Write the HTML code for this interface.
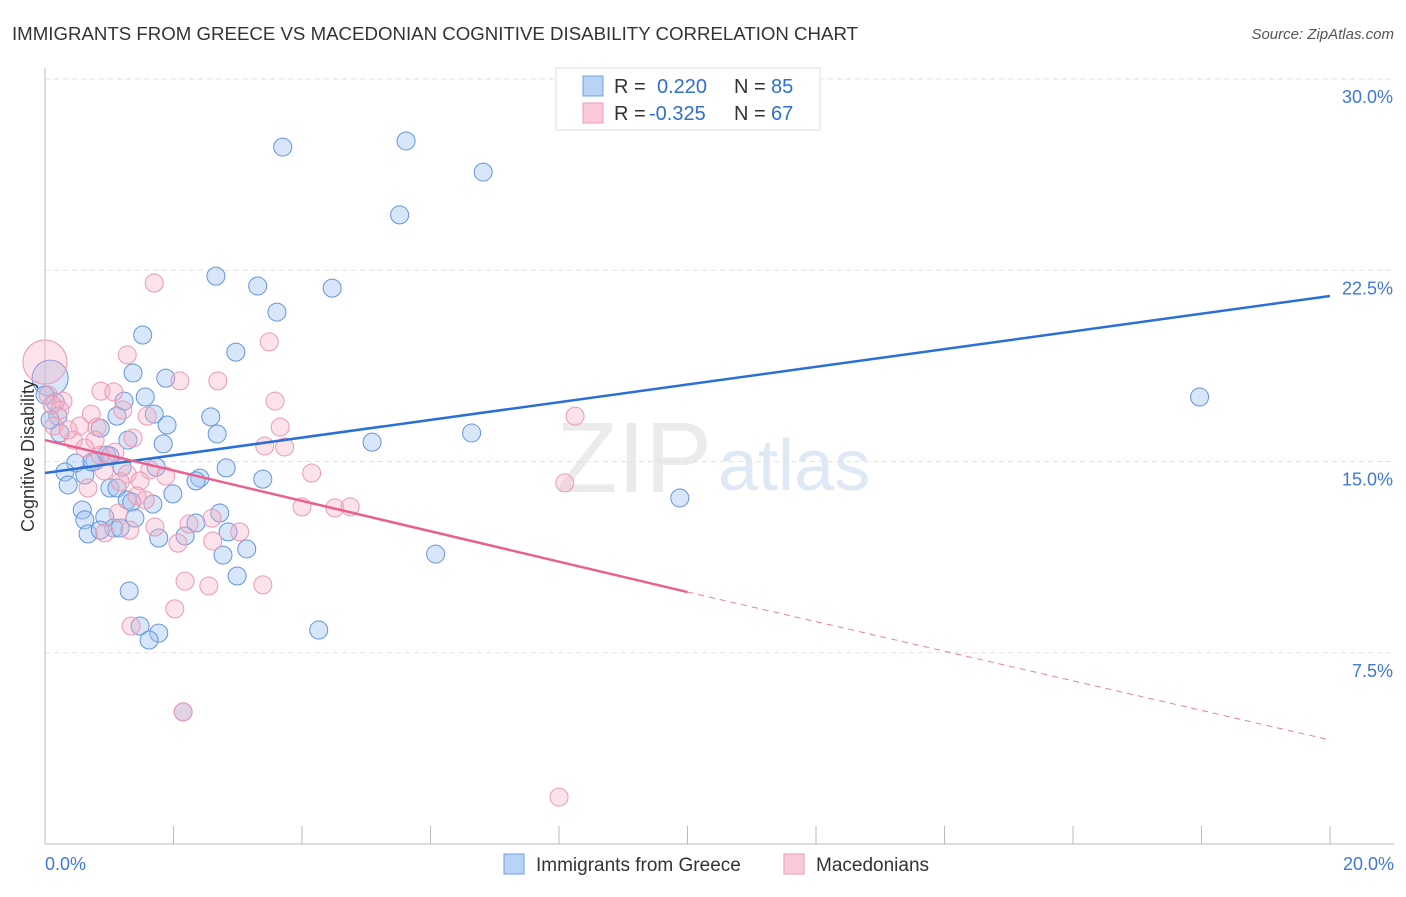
<!DOCTYPE html>
<html><head><meta charset="utf-8">
<style>
body{margin:0;background:#fff;font-family:"Liberation Sans",sans-serif;}
svg text{font-family:"Liberation Sans",sans-serif;}
</style></head>
<body>
<svg id="chart" width="1406" height="892">
<text x="12" y="40" font-size="18" fill="#333" textLength="846" lengthAdjust="spacingAndGlyphs">IMMIGRANTS FROM GREECE VS MACEDONIAN COGNITIVE DISABILITY CORRELATION CHART</text>
<text x="1394" y="39" font-size="15" fill="#555" text-anchor="end" font-style="italic">Source: ZipAtlas.com</text>
<text x="712" y="492" font-size="100" fill="#ebebeb" text-anchor="end" font-family="Liberation Serif">ZIP</text>
<text x="718" y="490" font-size="72" fill="#dfe8f5">atlas</text>
<g id="grid"></g>
<g id="axes"></g>
<g id="pts"></g>
<g id="trends"></g>
<text transform="translate(34,456) rotate(-90)" font-size="18" fill="#333" text-anchor="middle">Cognitive Disability</text>
<g>
<rect x="556" y="68" width="264" height="62" fill="#fff" stroke="#ddd"/>
<rect x="583" y="76" width="20" height="20" fill="#b8d3f5" stroke="#6f9fe0"/>
<rect x="583" y="103" width="20" height="20" fill="#fbcad9" stroke="#ee9ab5"/>
<text x="614" y="93" font-size="20" fill="#333">R = </text><text x="657" y="93" font-size="20" fill="#2e6fd0">0.220</text>
<text x="734" y="93" font-size="20" fill="#333">N = </text><text x="771" y="93" font-size="20" fill="#2e6fd0">85</text>
<text x="614" y="120" font-size="20" fill="#333">R = </text><text x="649" y="120" font-size="20" fill="#2e6fd0">-0.325</text>
<text x="734" y="120" font-size="20" fill="#333">N = </text><text x="771" y="120" font-size="20" fill="#2e6fd0">67</text>
</g>
<g>
<rect x="504" y="854" width="20" height="20" fill="#b8d3f5" stroke="#6f9fe0"/>
<text x="536" y="871" font-size="19" fill="#333">Immigrants from Greece</text>
<rect x="784" y="854" width="20" height="20" fill="#fbcad9" stroke="#ee9ab5"/>
<text x="816" y="871" font-size="19" fill="#333">Macedonians</text>
</g>
</svg>
<script>
const xTicks=[0,2,4,6,8,10,12,14,16,18,20];
const yTicks=[7.5,15,22.5,30];
const yTickLabels=["7.5%","15.0%","22.5%","30.0%"];
const xEndLabels=["0.0%","20.0%"];
const greeceX=[3.70,5.62,6.82,5.52,2.66,3.31,4.47,3.61,1.52,2.97,1.37,1.88,0.08,1.56,1.23,0.16,1.70,1.12,2.58,1.90,0.20,0.86,0.23,2.68,1.29,1.84,5.09,6.64,0.96,0.48,0.78,1.20,1.73,2.82,0.31,2.41,2.35,3.39,0.62,0.36,1.01,1.12,1.99,1.28,1.68,1.35,0.58,2.72,0.93,1.40,0.62,2.35,2.85,0.67,1.07,1.17,0.86,1.77,2.18,2.77,3.14,6.08,2.99,1.31,9.88,17.97,4.26,1.48,1.77,1.62,2.15,0.73,1.01,0.0,0.08];
const greeceY=[27.33,27.57,26.35,24.67,22.27,21.88,21.80,20.86,19.96,19.29,18.47,18.27,18.27,17.53,17.37,17.33,16.86,16.78,16.75,16.43,16.78,16.31,16.12,16.08,15.84,15.69,15.76,16.12,15.25,14.94,15.02,14.78,14.78,14.75,14.59,14.35,14.24,14.31,14.47,14.08,13.96,13.96,13.73,13.49,13.33,13.41,13.10,12.98,12.82,12.78,12.71,12.59,12.24,12.16,12.39,12.39,12.31,12.00,12.08,11.33,11.57,11.37,10.51,9.92,13.57,17.53,8.39,8.55,8.27,8.00,5.18,14.98,15.22,17.61,16.63];
const macX=[1.70,1.28,3.49,2.10,2.69,0.87,1.07,1.21,0.72,1.59,0.28,0.54,0.81,0.14,0.44,0.78,1.37,3.58,3.66,3.42,3.73,8.25,4.15,1.63,1.28,1.88,1.48,0.67,1.17,1.43,4.00,4.51,4.75,8.09,1.14,1.71,2.24,0.93,3.03,2.61,2.07,2.60,2.18,2.55,3.39,2.02,1.34,2.15,8.00,0.0,0.05,0.11,0.23,0.36,0.62,0.92,1.32,1.09,1.56,0.86];
const macY=[22.0,19.18,19.69,18.16,18.16,17.76,17.73,17.02,16.86,16.78,17.37,16.39,16.35,16.39,15.84,15.84,15.92,17.37,16.35,15.61,15.57,16.78,14.55,14.67,14.51,14.43,14.24,13.96,14.20,13.65,13.22,13.18,13.22,14.16,12.98,12.43,12.55,12.20,12.24,11.88,11.80,12.78,10.31,10.12,10.16,9.22,8.55,5.18,1.84,18.90,17.61,17.22,17.02,16.24,15.53,14.63,12.31,15.37,13.49,15.25];
const bigGreece=[12];
const bigMac=[49];
const greeceTrend=[14.55,21.49];
const macTrend=[15.84,9.88,4.08];

const NS="http://www.w3.org/2000/svg";
const X0=45,X1=1330,Y0=844,PPY=25.5;
function sx(v){return X0+(X1-X0)*v/20;}
function sy(v){return Y0-v*PPY;}
function mk(tag,attrs,parent){const e=document.createElementNS(NS,tag);for(const k in attrs)e.setAttribute(k,attrs[k]);parent.appendChild(e);return e;}
const grid=document.getElementById('grid'),axes=document.getElementById('axes'),pts=document.getElementById('pts'),tr=document.getElementById('trends');
yTicks.forEach((t,i)=>{
  const l=mk('line',{x1:X0,x2:1394,y1:sy(t),y2:sy(t),stroke:'#e2e2e2','stroke-dasharray':'5,4'},grid);
  
  
  const tx=mk('text',{x:1393,y:sy(t)+24,'font-size':18,fill:'#3f78d6','text-anchor':'end'},grid);
  tx.textContent=yTickLabels[i];
  
  
});
const la=mk('line',{x1:X0,x2:X0,y1:68,y2:Y0,stroke:'#bbb'},axes);


const ba=mk('line',{x1:X0,x2:1394,y1:Y0,y2:Y0,stroke:'#bbb'},axes);


xTicks.forEach(t=>{
  const l=mk('line',{x1:sx(t),x2:sx(t),y1:826,y2:Y0,stroke:'#bbb'},axes);
  
  
});
const xl0=mk('text',{x:45,y:870,'font-size':18,fill:'#3f78d6'},axes);xl0.textContent=xEndLabels[0];


const xl1=mk('text',{x:1394,y:870,'font-size':18,fill:'#3f78d6','text-anchor':'end'},axes);xl1.textContent=xEndLabels[1];


function drawSeries(xs,ys,big,fill,stroke,name){
  xs.forEach((x,i)=>{
    const r=big.includes(i)?(name==='macedonian-point'?22:18):9;
    const c=mk('circle',{cx:sx(x),cy:sy(ys[i]),r:r,fill:fill,stroke:stroke,'stroke-width':1},pts);
    
    
  });
}
drawSeries(greeceX,greeceY,bigGreece,'rgba(160,195,240,0.42)','#6494dc','greece-point');
drawSeries(macX,macY,bigMac,'rgba(246,175,198,0.36)','#eb9ab4','macedonian-point');
const gl=mk('line',{x1:sx(0),y1:sy(greeceTrend[0]),x2:sx(20),y2:sy(greeceTrend[1]),stroke:'#2a6fd6','stroke-width':2.5},tr);


const ml=mk('line',{x1:sx(0),y1:sy(macTrend[0]),x2:sx(10),y2:sy(macTrend[1]),stroke:'#e8608e','stroke-width':2.5},tr);


const md=mk('line',{x1:sx(10),y1:sy(macTrend[1]),x2:sx(20),y2:sy(macTrend[2]),stroke:'#e8809e','stroke-width':1,'stroke-dasharray':'6,5'},tr);


</script>
</body></html>
